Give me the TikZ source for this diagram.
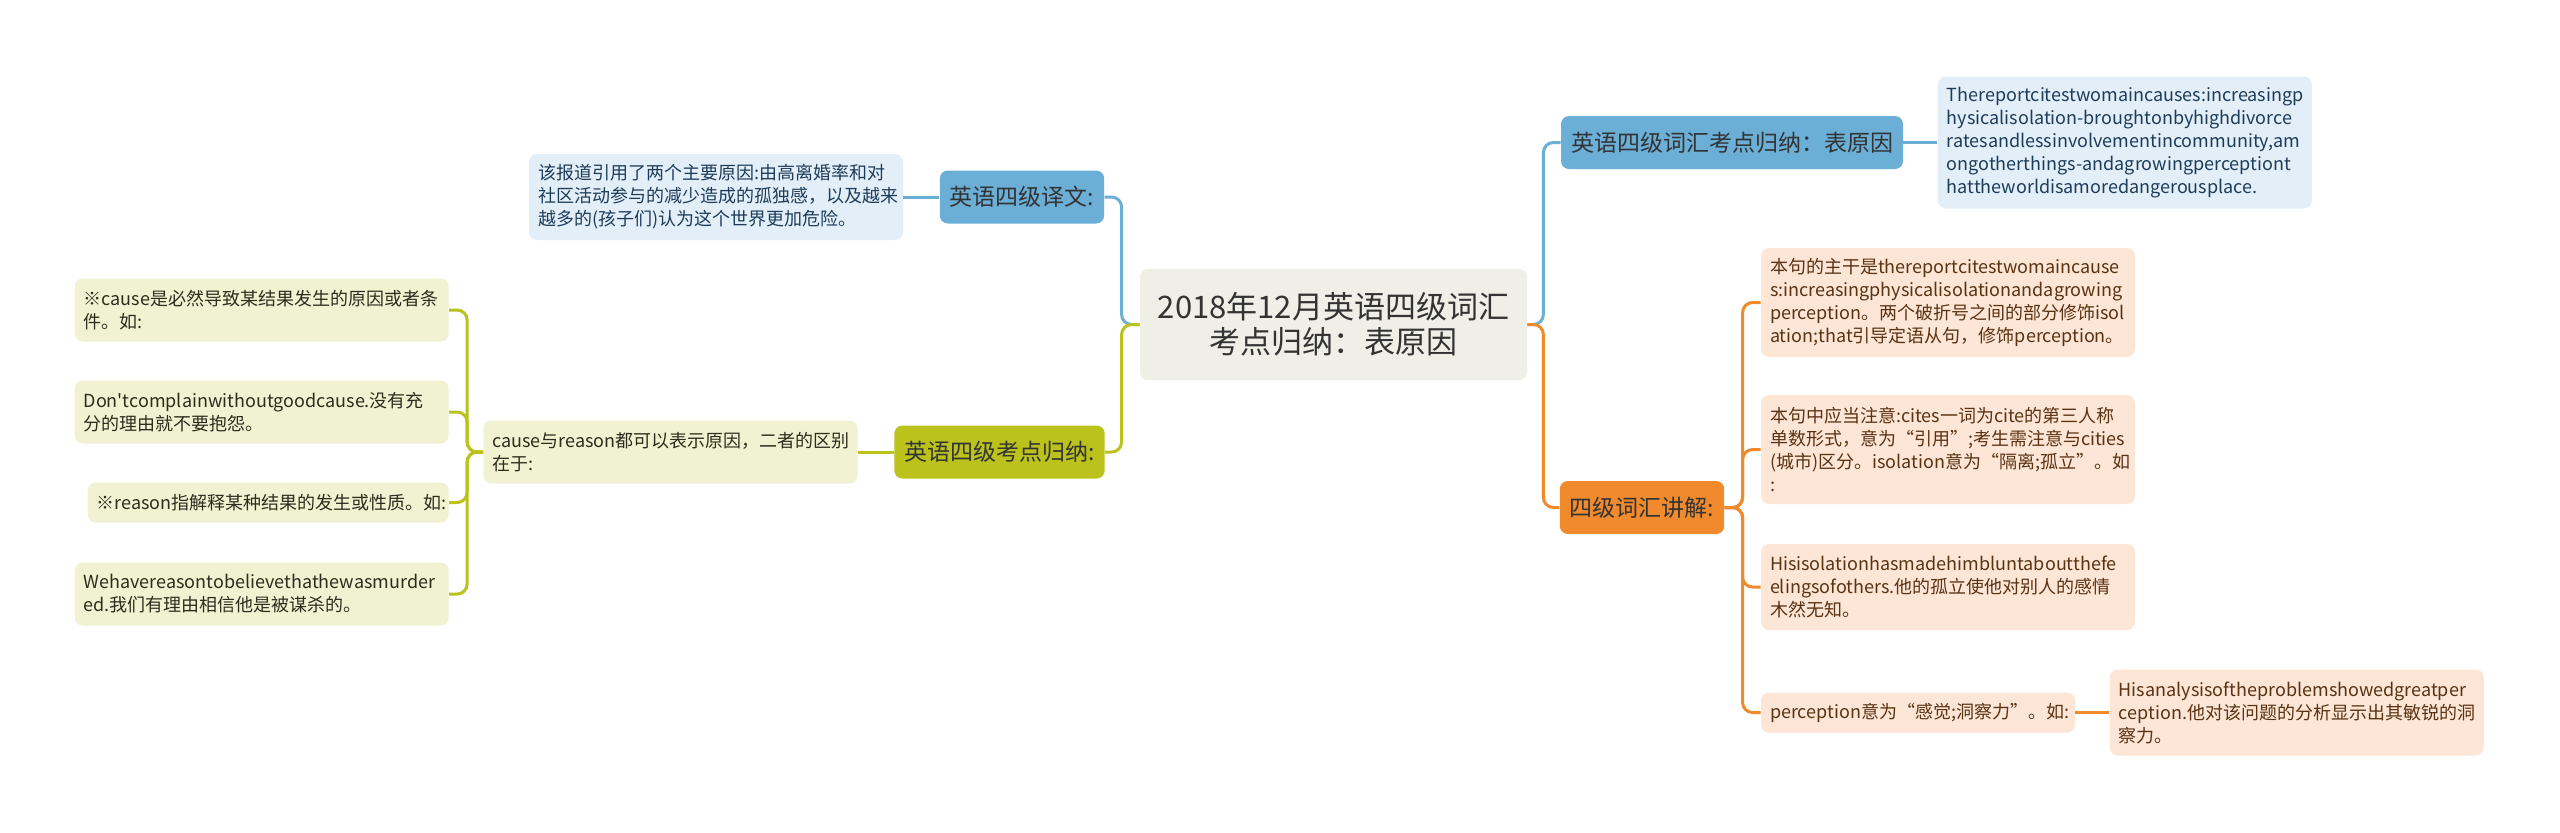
\documentclass[tikz,border=0pt]{standalone}
\usepackage{fontspec}
\setmainfont{Noto Sans CJK SC}
\newfontfamily\aposfont{Noto Sans CJK SC}
\usepackage{xcolor}
\usepackage{tikz}
\usetikzlibrary{shapes,positioning,calc}
\hyphenpenalty=10000
\exhyphenpenalty=10000
\definecolor{mapblue}{RGB}{107,174,214}
\definecolor{mapolive}{RGB}{187,194,28}
\definecolor{maporange}{RGB}{240,138,44}
\definecolor{rootgray}{RGB}{239,239,231}
\definecolor{blueleaf}{RGB}{226,239,248}
\definecolor{oliveleaf}{RGB}{241,242,210}
\definecolor{orangeleaf}{RGB}{253,230,213}
\definecolor{textdark}{RGB}{51,51,51}
\definecolor{bluetext}{RGB}{30,60,90}
\definecolor{olivetext}{RGB}{45,45,30}
\definecolor{orangetext}{RGB}{90,50,20}
\tikzset{
    root/.style={rectangle, fill=rootgray, text=textdark, rounded corners=4pt, align=center, minimum width=193.5pt, minimum height=55.5pt, font=\fontsize{15.5}{17.5}\selectfont},
    topic/.style={rectangle, text=textdark, rounded corners=4pt, inner xsep=5pt, minimum height=26.5pt, font=\fontsize{11.5}{13}\selectfont},
    leaf/.style={rectangle, rounded corners=4pt, align=left, text width=178pt, inner xsep=4.5pt, inner ysep=0pt, font=\fontsize{9}{11.5}\selectfont},
    nlines/.style={minimum height=#1*11.5pt+8.5pt},
    link/.style={draw, line width=1.5pt, rounded corners=5pt}
}

\begin{document}
\begin{tikzpicture}[x=0.5pt, y=-0.5pt]
    \fill [white] (0,0) rectangle (2560,832);
    \useasboundingbox (0,0) rectangle (2560,832);

    % Central topic
    \node [root] (root) at (1333.5,324.5) {2018年12月英语四级词汇\\考点归纳：表原因};

    % Main branches
    \node [topic, fill=mapblue] (vocab) at ([shift={(398.5,-182)}]root) {英语四级词汇考点归纳：表原因};
    \node [topic, fill=maporange] (notes) at ([shift={(308.5,183)}]root) {四级词汇讲解:};
    \node [topic, fill=mapblue] (transl) at ([shift={(-311.5,-127.5)}]root) {英语四级译文:};
    \node [topic, fill=mapolive] (points) at ([shift={(-334,127.5)}]root) {英语四级考点归纳:};

    % Original sentence
    \node [leaf, fill=blueleaf, text=bluetext, nlines=5, right=17pt of vocab] (sentence) {Thereportcitestwomaincauses:increasingp\\hysicalisolation-broughtonbyhighdivorce\\ratesandlessinvolvementincommunity,am\\ongotherthings-andagrowingperceptiont\\hattheworldisamoredangerousplace.};

    % Translation
    \node [leaf, fill=blueleaf, text=bluetext, nlines=3, left=18pt of transl] (chinese) {该报道引用了两个主要原因:由高离婚率和对\\社区活动参与的减少造成的孤独感，以及越来\\越多的(孩子们)认为这个世界更加危险。};

    % cause and reason
    \node [leaf, fill=oliveleaf, text=olivetext, nlines=2, left=18pt of points] (cause) {cause与reason都可以表示原因，二者的区别\\在于:};
    \node [leaf, fill=oliveleaf, text=olivetext, nlines=2, anchor=east] (causea) at ([shift={(-34,-142)}]cause.west) {※cause是必然导致某结果发生的原因或者条\\件。如:};
    \node [leaf, fill=oliveleaf, text=olivetext, nlines=2, anchor=east] (causeb) at ([shift={(-34,-40)}]cause.west) {Don{\aposfont'}tcomplainwithoutgoodcause.没有充\\分的理由就不要抱怨。};
    \node [leaf, fill=oliveleaf, text=olivetext, nlines=1, text width=171.5pt, anchor=east] (reasona) at ([shift={(-34,50.5)}]cause.west) {※reason指解释某种结果的发生或性质。如:};
    \node [leaf, fill=oliveleaf, text=olivetext, nlines=2, anchor=east] (reasonb) at ([shift={(-34,142)}]cause.west) {Wehavereasontobelievethathewasmurder\\ed.我们有理由相信他是被谋杀的。};

    % Vocabulary notes
    \node [leaf, fill=orangeleaf, text=orangetext, nlines=4, anchor=west] (notea) at ([shift={(36,-205)}]notes.east) {本句的主干是thereportcitestwomaincause\\s:increasingphysicalisolationandagrowing\\perception。两个破折号之间的部分修饰isol\\ation;that引导定语从句，修饰perception。};
    \node [leaf, fill=orangeleaf, text=orangetext, nlines=4, anchor=west] (noteb) at ([shift={(36,-58)}]notes.east) {本句中应当注意:cites一词为cite的第三人称\\单数形式，意为“引用”;考生需注意与cities\\(城市)区分。isolation意为“隔离;孤立”。如\\:};
    \node [leaf, fill=orangeleaf, text=orangetext, nlines=3, anchor=west] (notec) at ([shift={(36,79.5)}]notes.east) {Hisisolationhasmadehimbluntaboutthefe\\elingsofothers.他的孤立使他对别人的感情\\木然无知。};
    \node [leaf, fill=orangeleaf, text=orangetext, nlines=1, text width=148pt, anchor=west] (noted) at ([shift={(36,205)}]notes.east) {perception意为“感觉;洞察力”。如:};
    \node [leaf, fill=orangeleaf, text=orangetext, nlines=3, right=17pt of noted] (example) {Hisanalysisoftheproblemshowedgreatper\\ception.他对该问题的分析显示出其敏锐的洞\\察力。};

    % Connections
    \path [link, mapblue] (root.east) -- ++(16,0) |- (vocab.west);
    \path [link, maporange] (root.east) -- ++(16,0) |- (notes.west);
    \path [link, mapblue] (root.west) -- ++(-18,0) |- (transl.east);
    \path [link, mapolive] (root.west) -- ++(-18,0) |- (points.east);
    \path [link, mapblue] (vocab) -- (sentence);
    \path [link, mapblue] (transl) -- (chinese);
    \path [link, mapolive] (points) -- (cause);
    \foreach \leafname in {causea,causeb,reasona,reasonb}
        \path [link, mapolive] (cause.west) -- ++(-16,0) |- (\leafname.east);
    \foreach \leafname in {notea,noteb,notec,noted}
        \path [link, maporange] (notes.east) -- ++(18,0) |- (\leafname.west);
    \path [link, maporange] (noted) -- (example);
\end{tikzpicture}
\end{document}
